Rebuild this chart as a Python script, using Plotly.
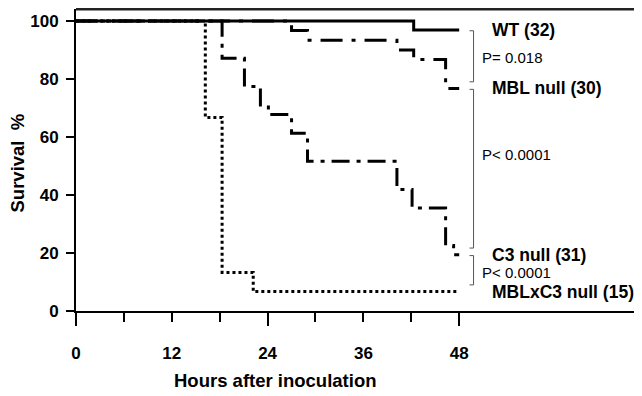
import plotly.graph_objects as go

# ---- data ----
wt_t = [0, 42.3, 48]
wt_s = [100, 96.9, 96.9]

mbl_t = [0, 27.0, 29.0, 40.2, 42.3, 46.3, 48]
mbl_s = [100, 96.7, 93.3, 90.0, 86.7, 76.7, 76.7]

c3_t = [0, 18.3, 21.1, 23.1, 24.1, 27.0, 29.0, 40.2, 42.1, 46.3, 47.3, 48]
c3_s = [100, 87.1, 77.4, 71.0, 67.7, 61.3, 51.6, 41.9, 35.5, 22.6, 19.4, 19.4]

dko_t = [0, 16.2, 18.3, 22.2, 48]
dko_s = [100, 66.7, 13.3, 6.7, 6.7]

group_labels = ["WT (32)", "MBL null (30)", "C3 null (31)", "MBLxC3 null (15)"]
p_labels = ["P= 0.018", "P< 0.0001", "P< 0.0001"]
p_label_y = [87.5, 54.0, 13.2]

x_tick_vals = [0, 6, 12, 18, 24, 30, 36, 42, 48]
x_tick_text = ["0", "", "12", "", "24", "", "36", "", "48"]
x_long_ticks = [0, 24, 48]
y_tick_vals = [0, 20, 40, 60, 80, 100]

FONT = "Liberation Sans, Arial, sans-serif"

fig = go.Figure()

line_w = 3
fig.add_trace(go.Scatter(x=dko_t, y=dko_s, mode="lines", line_shape="hv",
                         line=dict(color="black", width=line_w, dash="3px,3px"),
                         hoverinfo="skip", showlegend=False))
fig.add_trace(go.Scatter(x=c3_t, y=c3_s, mode="lines", line_shape="hv",
                         line=dict(color="black", width=line_w, dash="18px,7px,4px,7px"),
                         hoverinfo="skip", showlegend=False))
fig.add_trace(go.Scatter(x=mbl_t, y=mbl_s, mode="lines", line_shape="hv",
                         line=dict(color="black", width=line_w, dash="22px,9px,4px,9px"),
                         hoverinfo="skip", showlegend=False))
fig.add_trace(go.Scatter(x=wt_t, y=wt_s, mode="lines", line_shape="hv",
                         line=dict(color="black", width=line_w),
                         hoverinfo="skip", showlegend=False))

# brackets between final survival values
finals = [wt_s[-1], mbl_s[-1], c3_s[-1], dko_s[-1]]
bx0, bx1 = 49.3, 49.8
for i in range(3):
    top = finals[i] - 0.3
    bot = finals[i + 1] + 2.3
    fig.add_trace(go.Scatter(x=[bx0, bx1, bx1, bx0], y=[top, top, bot, bot],
                             mode="lines", line=dict(color="#555", width=1),
                             hoverinfo="skip", showlegend=False))

# group labels
for lab, yv in zip(group_labels, finals):
    fig.add_annotation(x=51.8, y=yv, xref="x", yref="y", text=lab, showarrow=False,
                       xanchor="left", yanchor="middle",
                       font=dict(family=FONT, size=17.5, color="black", weight="bold"))
for lab, yv in zip(p_labels, p_label_y):
    fig.add_annotation(x=50.6, y=yv, xref="x", yref="y", text=lab, showarrow=False,
                       xanchor="left", yanchor="middle",
                       font=dict(family=FONT, size=15, color="black"))

# axis titles
fig.add_annotation(x=-0.1034, y=0.49, xref="paper", yref="paper",
                   text="Survival\u00a0\u00a0%",
                   textangle=-90, showarrow=False, xanchor="center", yanchor="middle",
                   font=dict(family=FONT, size=18.5, color="black", weight="bold"))
fig.add_annotation(x=0.3516, y=-0.2285, xref="paper", yref="paper",
                   text="Hours after inoculation", showarrow=False,
                   xanchor="center", yanchor="middle",
                   font=dict(family=FONT, size=18.5, color="black", weight="bold"))

# top border
fig.add_shape(type="line", xref="paper", yref="paper", x0=0, x1=1, y0=1, y1=1,
              line=dict(color="#222", width=3))

# page body has an 8px default margin, so the figure is offset by 8px
x_max = 566 / 7.983
fig.update_layout(
    width=634, height=388,
    margin=dict(l=68, r=0, t=1, b=85),
    paper_bgcolor="white", plot_bgcolor="white",
    xaxis=dict(range=[0, x_max], showgrid=False, zeroline=False,
               showline=True, linecolor="black", linewidth=2,
               tickmode="array", tickvals=x_tick_vals, ticktext=x_tick_text,
               ticks="outside", ticklen=9, tickwidth=2, tickcolor="black",
               ticklabelstandoff=17,
               tickfont=dict(family=FONT, size=17, color="black", weight="bold")),
    xaxis2=dict(range=[0, x_max], overlaying="x", anchor="y", side="bottom",
                showgrid=False, zeroline=False, showline=False,
                tickmode="array", tickvals=x_long_ticks, showticklabels=False,
                ticks="outside", ticklen=14, tickwidth=2, tickcolor="black"),
    yaxis=dict(range=[0, 104.1], showgrid=False, zeroline=False,
               showline=True, linecolor="black", linewidth=2,
               tickmode="array", tickvals=y_tick_vals,
               ticks="outside", ticklen=8, tickwidth=2, tickcolor="black",
               ticklabelstandoff=4,
               tickfont=dict(family=FONT, size=17, color="black", weight="bold")),
)
# invisible trace to activate xaxis2
fig.add_trace(go.Scatter(x=[0], y=[0], xaxis="x2", yaxis="y", mode="markers",
                         marker=dict(opacity=0), hoverinfo="skip", showlegend=False))

fig.write_html("out.html")
